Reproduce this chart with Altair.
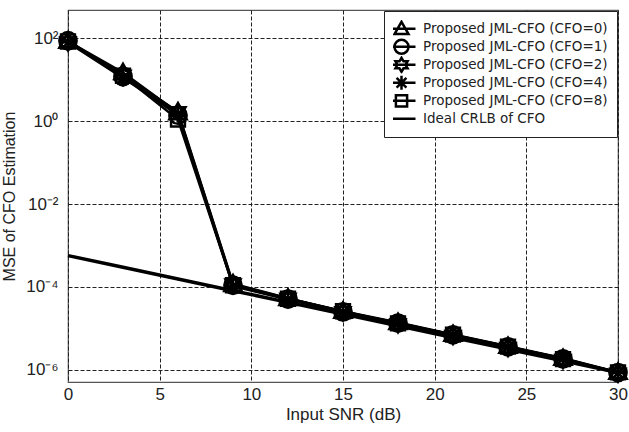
import altair as alt
import pandas as pd

snr = [0, 3, 6, 9, 12, 15, 18, 21, 24, 27, 30]

series_names = [
    "Proposed JML-CFO (CFO=0)",
    "Proposed JML-CFO (CFO=1)",
    "Proposed JML-CFO (CFO=2)",
    "Proposed JML-CFO (CFO=4)",
    "Proposed JML-CFO (CFO=8)",
    "Ideal CRLB of CFO",
]

mse_cfo0 = [85, 15.0, 1.6, 1.15e-4, 5.3e-5, 2.6e-5, 1.40e-5, 7.2e-6, 3.70e-6, 1.90e-6, 8.8e-7]
mse_cfo1 = [88, 12.0, 1.4, 1.10e-4, 5.1e-5, 2.5e-5, 1.35e-5, 7.0e-6, 3.60e-6, 1.85e-6, 8.6e-7]
mse_cfo2 = [82, 13.0, 1.7, 1.20e-4, 5.4e-5, 2.55e-5, 1.30e-5, 6.8e-6, 3.50e-6, 1.80e-6, 8.4e-7]
mse_cfo4 = [80, 11.0, 1.5, 1.05e-4, 5.0e-5, 2.45e-5, 1.38e-5, 6.9e-6, 3.55e-6, 1.90e-6, 8.5e-7]
mse_cfo8 = [84, 12.5, 1.1, 1.10e-4, 5.2e-5, 2.6e-5, 1.32e-5, 7.1e-6, 3.65e-6, 1.82e-6, 8.7e-7]
crlb = [5.71e-4, 2.99e-4, 1.56e-4, 8.15e-5, 4.26e-5, 2.22e-5, 1.16e-5, 6.07e-6, 3.17e-6, 1.66e-6, 8.65e-7]

all_values = [mse_cfo0, mse_cfo1, mse_cfo2, mse_cfo4, mse_cfo8, crlb]

# marker outlines (plot) and legend symbols (marker + line segment)
tri = "M0,-1L1,0.75L-1,0.75Z"
circ = "M1,0A1,1,0,1,1,-1,0A1,1,0,1,1,1,0Z"
hexa = ("M0,-1L0.289,-0.5L0.866,-0.5L0.577,0L0.866,0.5L0.289,0.5L0,1"
        "L-0.289,0.5L-0.866,0.5L-0.577,0L-0.866,-0.5L-0.289,-0.5Z")
ast = "M0,-1V1M-1,0H1M-0.7,-0.7L0.7,0.7M-0.7,0.7L0.7,-0.7"
sq = "M-0.8,-0.8H0.8V0.8H-0.8Z"
bar = "M-2,0H2"
plot_shapes = [tri, circ, hexa, ast, sq]
legend_shapes = [s + bar for s in plot_shapes] + [bar]

rows = []
for name, vals in zip(series_names, all_values):
    for x, v in zip(snr, vals):
        rows.append({"series": name, "snr": x, "mse": v, "is_crlb": name == series_names[-1]})
df = pd.DataFrame(rows)

FONT = "Liberation Sans"
LEGEND_FONT = "DejaVu Sans"

x_enc = alt.X(
    "snr:Q",
    scale=alt.Scale(domain=[0, 30], nice=False),
    axis=alt.Axis(
        values=[0, 5, 10, 15, 20, 25, 30],
        title="Input SNR (dB)",
        format="d",
        labelFlush=False,
    ),
)
y_enc = alt.Y(
    "mse:Q",
    scale=alt.Scale(type="log", domain=[5.1e-7, 483], nice=False),
    axis=alt.Axis(
        values=[1e-6, 1e-4, 1e-2, 1, 100],
        title="MSE of CFO Estimation",
        titleFontSize=16,
        labelFlush=False,
        labelExpr=(
            "datum.value >= 5 ? '10²' : datum.value >= 0.05 ? '10⁰' : "
            "datum.value >= 5e-4 ? '10⁻²' : datum.value >= 5e-6 ? '10⁻⁴' : '10⁻⁶'"
        ),
    ),
)

base = alt.Chart(df)

prop_lines = base.transform_filter("!datum.is_crlb").mark_line(
    color="black", strokeWidth=2.5
).encode(x=x_enc, y=y_enc, detail="series:N")

crlb_line = base.transform_filter("datum.is_crlb").mark_line(
    color="black", strokeWidth=3.5
).encode(x=x_enc, y=y_enc)

points = base.transform_filter("!datum.is_crlb").mark_point(
    color="black", filled=False, strokeWidth=2.5, size=300, opacity=1, clip=False
).encode(
    x=x_enc,
    y=y_enc,
    shape=alt.Shape(
        "series:N",
        scale=alt.Scale(domain=series_names[:5], range=plot_shapes),
        legend=None,
    ),
)

legend_layer = base.mark_point(
    color="black", filled=False, opacity=0
).encode(
    x=x_enc,
    y=y_enc,
    shape=alt.Shape(
        "series:N",
        scale=alt.Scale(domain=series_names, range=legend_shapes),
        legend=alt.Legend(
            title=None,
            orient="top-right",
            offset=1,
            symbolOpacity=1,
            symbolStrokeWidth=2.5,
            symbolStrokeColor="black",
            symbolFillColor="transparent",
            symbolSize=196,
            labelFont=LEGEND_FONT,
            labelFontSize=13.5,
            labelColor="#222",
            labelOffset=13,
            clipHeight=17.6,
            rowPadding=0,
            padding=9,
            fillColor="white",
            strokeColor="#222",
            labelLimit=300,
        ),
    ),
)

chart = (
    alt.layer(crlb_line, prop_lines, points, legend_layer)
    .resolve_scale(shape="independent")
    .properties(
        width=550,
        height=372,
        autosize=alt.AutoSizeParams(type="none"),
        padding={"left": 68, "top": 10, "right": 11, "bottom": 50},
        background="white",
    )
    .configure_view(stroke="#555", strokeWidth=1.2)
    .configure_axis(
        grid=True,
        gridColor="#222",
        gridDash=[4, 2],
        gridWidth=1,
        gridOpacity=1,
        domain=False,
        ticks=False,
        labelFont=FONT,
        labelFontSize=17,
        labelColor="#222",
        titleFont=FONT,
        titleFontSize=17,
        titleFontWeight="normal",
        titleColor="#222",
    )
    .configure_axisX(labelPadding=4, titlePadding=4)
    .configure_axisY(labelPadding=10, titlePadding=8)
)

chart.save("out.html", embed_options={"renderer": "svg", "actions": False})
